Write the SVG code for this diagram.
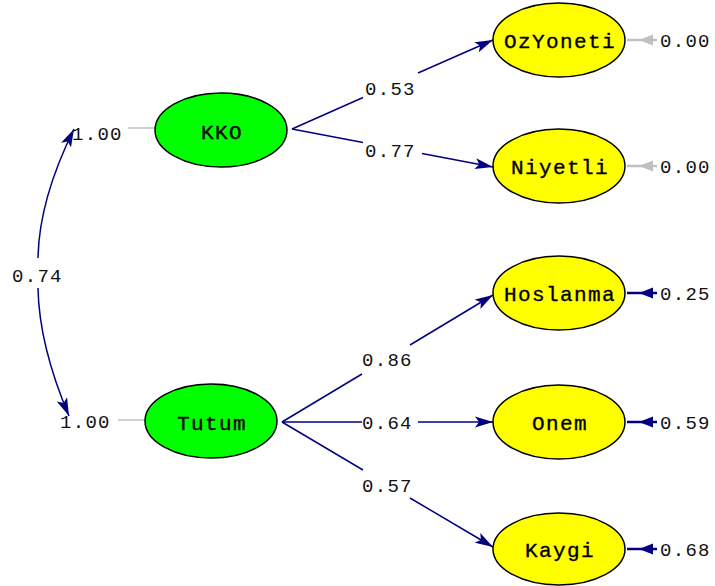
<svg xmlns="http://www.w3.org/2000/svg" width="715" height="586" viewBox="0 0 715 586">
  <style>
    .lat { fill: #00ff00; stroke: #000; stroke-width: 1.5; }
    .obs { fill: #ffff00; stroke: #000; stroke-width: 1.5; }
    .name { font-family: "Liberation Mono", "DejaVu Sans Mono", monospace; font-size: 21px; letter-spacing: 1.4px; fill: #000; stroke: #000; stroke-width: 0.35; text-anchor: middle; }
    .num { font-family: "Liberation Mono", "DejaVu Sans Mono", monospace; font-size: 19px; letter-spacing: 1.3px; fill: #111; }
    .path { stroke: #000080; stroke-width: 1.5; fill: none; }
    .grey { stroke: #c0c0c0; stroke-width: 1.5; fill: none; }
    .thick { stroke-width: 2.5; }
    .head { fill: #000080; }
    .ghead { fill: #c0c0c0; }
  </style>
  <defs>
    <marker id="arr" markerUnits="userSpaceOnUse" viewBox="0 0 18 12" refX="18" refY="6" markerWidth="18" markerHeight="12" orient="auto">
      <path d="M0,0.5 L18,6 L0,11.5 L4,6 z" fill="#000080"/>
    </marker>
  </defs>
  <rect width="715" height="586" fill="#fff"/>

  <!-- connectors -->
  <g id="connectors">
    <!-- covariance KKO <-> Tutum -->
    <path class="path" d="M38,258 Q39,200 74,129" marker-end="url(#arr)"/>
    <path class="path" d="M38,288 Q39,345 69,416" marker-end="url(#arr)"/>
    <!-- latent variances -->
    <line class="grey" x1="128" y1="128" x2="155" y2="128"/>
    <line class="grey" x1="118" y1="420" x2="145" y2="420"/>
    <!-- KKO loadings -->
    <line class="path" x1="292" y1="129" x2="363" y2="97.5"/>
    <line class="path" x1="418" y1="73" x2="493" y2="40" marker-end="url(#arr)"/>
    <line class="path" x1="292" y1="129" x2="363" y2="142.5"/>
    <line class="path" x1="422" y1="153.6" x2="493" y2="167" marker-end="url(#arr)"/>
    <!-- Tutum loadings -->
    <line class="path" x1="282" y1="422" x2="362" y2="374"/>
    <line class="path" x1="410" y1="345" x2="493" y2="295" marker-end="url(#arr)"/>
    <line class="path" x1="282" y1="422" x2="362" y2="422"/>
    <line class="path" x1="418" y1="422" x2="493" y2="422" marker-end="url(#arr)"/>
    <line class="path" x1="282" y1="422" x2="363" y2="470"/>
    <line class="path" x1="410" y1="498" x2="493" y2="547" marker-end="url(#arr)"/>
    <!-- error terms -->
    <line class="grey thick" x1="627" y1="40" x2="657" y2="40"/>
    <path class="ghead" d="M639,40 L653,34.5 L653,45.5 z"/>
    <line class="grey thick" x1="627" y1="166" x2="657" y2="166"/>
    <path class="ghead" d="M639,166 L653,160.5 L653,171.5 z"/>
    <line class="path thick" x1="627" y1="293" x2="657" y2="293"/>
    <path class="head" d="M639,293 L653,287.5 L653,298.5 z"/>
    <line class="path thick" x1="627" y1="422" x2="657" y2="422"/>
    <path class="head" d="M639,422 L653,416.5 L653,427.5 z"/>
    <line class="path thick" x1="627" y1="549" x2="657" y2="549"/>
    <path class="head" d="M639,549 L653,543.5 L653,554.5 z"/>
  </g>

  <!-- connector labels -->
  <g id="labels">
    <text class="num" x="12" y="282">0.74</text>
    <text class="num" x="72" y="140">1.00</text>
    <text class="num" x="60" y="428">1.00</text>
    <text class="num" x="365" y="95">0.53</text>
    <text class="num" x="365" y="157">0.77</text>
    <text class="num" x="362" y="366">0.86</text>
    <text class="num" x="362" y="429">0.64</text>
    <text class="num" x="362" y="492">0.57</text>
    <text class="num" x="660" y="47">0.00</text>
    <text class="num" x="660" y="173">0.00</text>
    <text class="num" x="660" y="300">0.25</text>
    <text class="num" x="660" y="429">0.59</text>
    <text class="num" x="660" y="556">0.68</text>
  </g>

  <!-- latent variables -->
  <g id="KKO">
    <ellipse class="lat" cx="221" cy="130" rx="66" ry="37"/>
    <text class="name" x="222" y="139">KKO</text>
  </g>
  <g id="Tutum">
    <ellipse class="lat" cx="211" cy="421" rx="66" ry="37"/>
    <text class="name" x="212" y="430">Tutum</text>
  </g>

  <!-- observed variables -->
  <g id="OzYoneti">
    <ellipse class="obs" cx="559" cy="40" rx="66" ry="37"/>
    <text class="name" x="560" y="48">OzYoneti</text>
  </g>
  <g id="Niyetli">
    <ellipse class="obs" cx="559" cy="166" rx="66" ry="37"/>
    <text class="name" x="560" y="174">Niyetli</text>
  </g>
  <g id="Hoslanma">
    <ellipse class="obs" cx="559" cy="293" rx="66" ry="37"/>
    <text class="name" x="560" y="301">Hoslanma</text>
  </g>
  <g id="Onem">
    <ellipse class="obs" cx="559" cy="422" rx="66" ry="37"/>
    <text class="name" x="560" y="430">Onem</text>
  </g>
  <g id="Kaygi">
    <ellipse class="obs" cx="559" cy="549" rx="66" ry="36"/>
    <text class="name" x="560" y="557">Kaygi</text>
  </g>
</svg>
